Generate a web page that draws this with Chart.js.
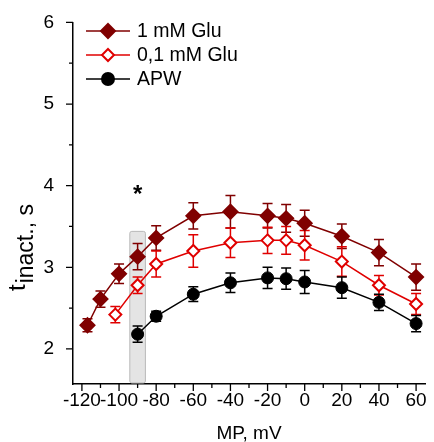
<!DOCTYPE html>
<html>
<head>
<meta charset="utf-8">
<script src="https://cdn.jsdelivr.net/npm/chart.js@4/dist/chart.umd.min.js"></script>
<style>
  html, body { margin: 0; padding: 0; background: #fff; }
  canvas { display: block; }
</style>
</head>
<body>
<canvas id="chart" width="434" height="442"></canvas>
<script>
// ============================================================
// DATA — t inact. (s) vs membrane potential (mV)
// ============================================================
const glu1X   = [-117, -110, -100, -90, -80, -60, -40, -20, -10, 0, 20, 40, 60];
const glu1Y   = [2.29, 2.61, 2.92, 3.13, 3.36, 3.63, 3.68, 3.63, 3.60, 3.54, 3.38, 3.18, 2.88];
const glu1Err = [0.08, 0.10, 0.12, 0.16, 0.15, 0.16, 0.20, 0.15, 0.17, 0.16, 0.15, 0.16, 0.16];

const glu01X   = [-102, -90, -80, -60, -40, -20, -10, 0, 20, 40, 60];
const glu01Y   = [2.42, 2.78, 3.04, 3.20, 3.30, 3.33, 3.33, 3.27, 3.07, 2.78, 2.55];
const glu01Err = [0.10, 0.10, 0.16, 0.20, 0.18, 0.16, 0.17, 0.18, 0.18, 0.12, 0.13];

const apwX   = [-90, -80, -60, -40, -20, -10, 0, 20, 40, 60];
const apwY   = [2.18, 2.40, 2.67, 2.81, 2.87, 2.86, 2.82, 2.75, 2.57, 2.31];
const apwErr = [0.10, 0.06, 0.09, 0.12, 0.13, 0.13, 0.14, 0.13, 0.10, 0.10];

const SERIES_LABELS = ['1 mM Glu', '0,1 mM Glu', 'APW'];

// highlighted band at -90 mV and the significance mark
const bandX   = [-94.2, -85.8];
const bandTop = 3.44;
const starX   = -90;
const starY   = 3.93;

// range not a whole number of steps so the ticks stay on multiples of 10
const X_MIN = -124.8, X_MAX = 64.8;
const Y_MIN = 1.57,   Y_MAX = 6;

const FONT = 'Arial, "Liberation Sans", sans-serif';
const DARK_RED = '#800000';
const RED      = '#e00000';

function pts(xs, ys) {
  return xs.map((x, i) => ({ x, y: ys[i] }));
}

// ============================================================
// PLUGINS — band, error bars, ticks, legend, y title
// ============================================================
const bandPlugin = {
  id: 'band',
  beforeDatasetsDraw(chart) {
    const { ctx, scales: { x, y } } = chart;
    const l = x.getPixelForValue(bandX[0]);
    const r = x.getPixelForValue(bandX[1]);
    const t = y.getPixelForValue(bandTop);
    const b = y.getPixelForValue(Y_MIN) - 1;
    ctx.save();
    ctx.fillStyle = '#e4e4e4';
    ctx.strokeStyle = '#b9b9b9';
    ctx.lineWidth = 1;
    ctx.beginPath();
    ctx.roundRect(l, t, r - l, b - t, 2);
    ctx.fill();
    ctx.stroke();
    // asterisk
    ctx.fillStyle = '#000';
    ctx.font = 'bold 24px ' + FONT;
    ctx.textAlign = 'center';
    ctx.textBaseline = 'middle';
    ctx.fillText('*', x.getPixelForValue(starX), y.getPixelForValue(starY) + 4);
    ctx.restore();
  }
};

const errorBarPlugin = {
  id: 'errorBars',
  beforeDatasetsDraw(chart) {
    const { ctx, scales: { x, y } } = chart;
    ctx.save();
    chart.data.datasets.forEach(ds => {
      ctx.strokeStyle = ds.borderColor;
      ctx.lineWidth = 1.5;
      ds.data.forEach((p, i) => {
        const e  = ds.errors[i];
        const px = x.getPixelForValue(p.x);
        const y1 = y.getPixelForValue(p.y - e);
        const y2 = y.getPixelForValue(p.y + e);
        ctx.beginPath();
        ctx.moveTo(px, y1); ctx.lineTo(px, y2);
        ctx.moveTo(px - 5, y1); ctx.lineTo(px + 5, y1);
        ctx.moveTo(px - 5, y2); ctx.lineTo(px + 5, y2);
        ctx.stroke();
      });
    });
    ctx.restore();
  }
};

const tickPlugin = {
  id: 'ticks',
  afterDraw(chart) {
    const { ctx, scales: { x, y } } = chart;
    ctx.save();
    ctx.strokeStyle = '#000';
    ctx.lineWidth = 1.3;
    ctx.beginPath();
    x.ticks.forEach(t => {
      const px = x.getPixelForValue(t.value);
      const len = t.value % 20 === 0 ? 7 : 4;
      ctx.moveTo(px, x.top); ctx.lineTo(px, x.top + len);
    });
    y.ticks.forEach(t => {
      const py = y.getPixelForValue(t.value);
      const len = Number.isInteger(t.value) ? 7 : 4;
      ctx.moveTo(y.right, py); ctx.lineTo(y.right - len, py);
    });
    ctx.stroke();
    ctx.restore();
  }
};

function drawMarker(ctx, style, px, py, color, filled) {
  ctx.beginPath();
  if (style === 'circle') {
    ctx.arc(px, py, 6, 0, Math.PI * 2);
  } else {
    const r = filled ? 7 : 6;
    ctx.moveTo(px, py - r); ctx.lineTo(px + r, py);
    ctx.lineTo(px, py + r); ctx.lineTo(px - r, py);
    ctx.closePath();
  }
  ctx.fillStyle = filled ? color : '#fff';
  ctx.fill();
  ctx.lineWidth = 2;
  ctx.strokeStyle = color;
  ctx.stroke();
}

const legendPlugin = {
  id: 'customLegend',
  afterDraw(chart) {
    const { ctx } = chart;
    ctx.save();
    ctx.font = '19.5px ' + FONT;
    ctx.textBaseline = 'middle';
    chart.data.datasets.forEach((ds, i) => {
      const yy = 31 + i * 24;
      ctx.strokeStyle = ds.borderColor;
      ctx.lineWidth = 1.5;
      ctx.beginPath();
      ctx.moveTo(86, yy); ctx.lineTo(130, yy);
      ctx.stroke();
      drawMarker(ctx, ds.pointStyle === 'circle' ? 'circle' : 'diamond', 108, yy,
        ds.borderColor, ds.pointBackgroundColor !== '#fff');
      ctx.fillStyle = '#000';
      ctx.fillText(ds.label, 137, yy + 1);
    });
    ctx.restore();
  }
};

const yTitlePlugin = {
  id: 'yTitle',
  afterDraw(chart) {
    const { ctx } = chart;
    ctx.save();
    ctx.translate(25, 291);
    ctx.rotate(-Math.PI / 2);
    ctx.fillStyle = '#000';
    ctx.textBaseline = 'alphabetic';
    ctx.font = '24px ' + FONT;
    ctx.fillText('t', 0, 0);
    const w = ctx.measureText('t').width;
    ctx.font = '23px ' + FONT;
    ctx.fillText('inact.', w + 1, 8);
    const w2 = ctx.measureText('inact.').width;
    ctx.fillText(', s', w + w2 + 1, 8);
    ctx.restore();
  }
};

// ============================================================
// CHART
// ============================================================
new Chart(document.getElementById('chart'), {
  type: 'line',
  data: {
    datasets: [
      {
        label: SERIES_LABELS[0],
        data: pts(glu1X, glu1Y),
        errors: glu1Err,
        borderColor: DARK_RED,
        backgroundColor: DARK_RED,
        pointBackgroundColor: DARK_RED,
        pointBorderColor: DARK_RED,
        pointStyle: 'rectRot',
        pointRadius: 7,
        pointBorderWidth: 2,
        borderWidth: 1.5,
        tension: 0,
      },
      {
        label: SERIES_LABELS[1],
        data: pts(glu01X, glu01Y),
        errors: glu01Err,
        borderColor: RED,
        backgroundColor: '#fff',
        pointBackgroundColor: '#fff',
        pointBorderColor: RED,
        pointStyle: 'rectRot',
        pointRadius: 6,
        pointBorderWidth: 2,
        borderWidth: 1.5,
        tension: 0,
      },
      {
        label: SERIES_LABELS[2],
        data: pts(apwX, apwY),
        errors: apwErr,
        borderColor: '#000',
        backgroundColor: '#000',
        pointBackgroundColor: '#000',
        pointBorderColor: '#000',
        pointStyle: 'circle',
        pointRadius: 6,
        pointBorderWidth: 1,
        borderWidth: 1.5,
        tension: 0,
      }
    ]
  },
  options: {
    responsive: false,
    animation: false,
    layout: { padding: { top: 22, right: 4, left: 0, bottom: 0 } },
    plugins: {
      legend: { display: false },
      tooltip: { enabled: false }
    },
    scales: {
      x: {
        type: 'linear',
        min: X_MIN,
        max: X_MAX,
        afterFit: s => { s.height = 58; },
        grid: { display: false },
        border: { display: true, color: '#000', width: 1.5 },
        ticks: {
          stepSize: 10,
          includeBounds: false,
          autoSkip: false,
          maxRotation: 0,
          minRotation: 0,
          padding: -3,
          color: '#000',
          font: { family: FONT, size: 19 },
          callback: v => (v % 20 === 0 ? String(v) : '')
        },
        title: {
          display: true,
          text: 'MP, mV',
          color: '#000',
          font: { family: FONT, size: 19 },
          padding: { top: 0, bottom: -3 }
        }
      },
      y: {
        min: Y_MIN,
        max: Y_MAX,
        afterFit: s => { s.width = 73; },
        grid: { display: false },
        border: { display: true, color: '#000', width: 1.5 },
        ticks: {
          stepSize: 0.5,
          includeBounds: false,
          padding: 11,
          color: '#000',
          font: { family: FONT, size: 19 },
          callback: v => (Number.isInteger(v) ? String(v) : '')
        }
      }
    }
  },
  plugins: [bandPlugin, errorBarPlugin, tickPlugin, legendPlugin, yTitlePlugin]
});
</script>
</body>
</html>
